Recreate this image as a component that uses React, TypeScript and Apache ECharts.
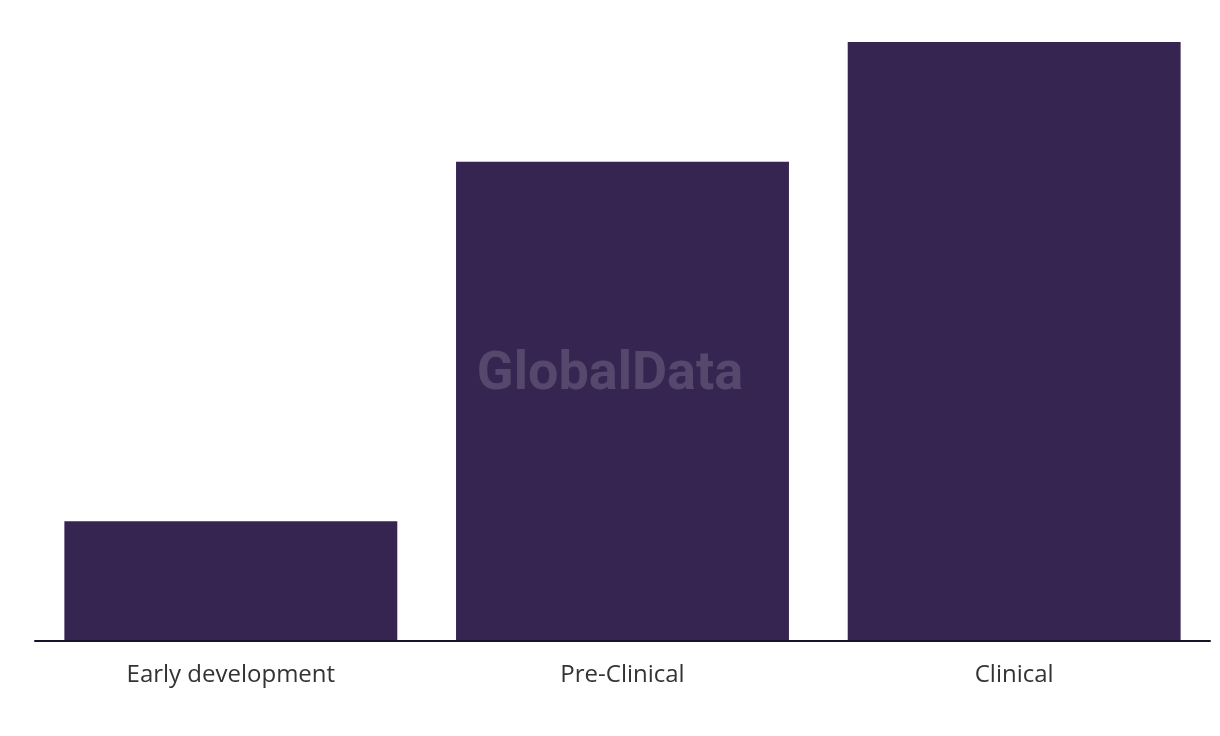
import React, { useEffect, useRef } from "react";
import * as echarts from "echarts";

const categories = ["Early development", "Pre-Clinical", "Clinical"];
const values = [1, 4, 5];

export default function App() {
  const ref = useRef<HTMLDivElement>(null);
  useEffect(() => {
    const chart = echarts.init(ref.current!, undefined, { renderer: "svg" });
    chart.setOption({
      animation: false,
      grid: { left: 35, right: 10, top: 42, bottom: 95, containLabel: false },
      xAxis: {
        type: "category",
        data: categories,
        z: 5,
        axisLine: { show: true, lineStyle: { color: "#15132a", width: 2 } },
        axisTick: { show: false },
        axisLabel: { color: "#333333", fontSize: 24, fontFamily: "Open Sans", margin: 19 },
      },
      yAxis: {
        type: "value",
        min: 0,
        max: 5,
        show: false,
        splitLine: { show: false },
      },
      series: [
        {
          type: "bar",
          data: values,
          barCategoryGap: "15%",
          itemStyle: { color: "#362451" },
        },
      ],
      graphic: [
        {
          type: "text",
          x: 610,
          y: 370,
          z: 100,
          style: {
            text: "GlobalData",
            font: "bold 54px Roboto",
            fill: "rgba(255,255,255,0.16)",
            textAlign: "center",
            textVerticalAlign: "middle",
          },
        },
      ],
    });
    return () => chart.dispose();
  }, []);
  return (
    <div
      ref={ref}
      style={{ position: "fixed", left: 0, top: 0, width: 1220, height: 736 }}
    />
  );
}
